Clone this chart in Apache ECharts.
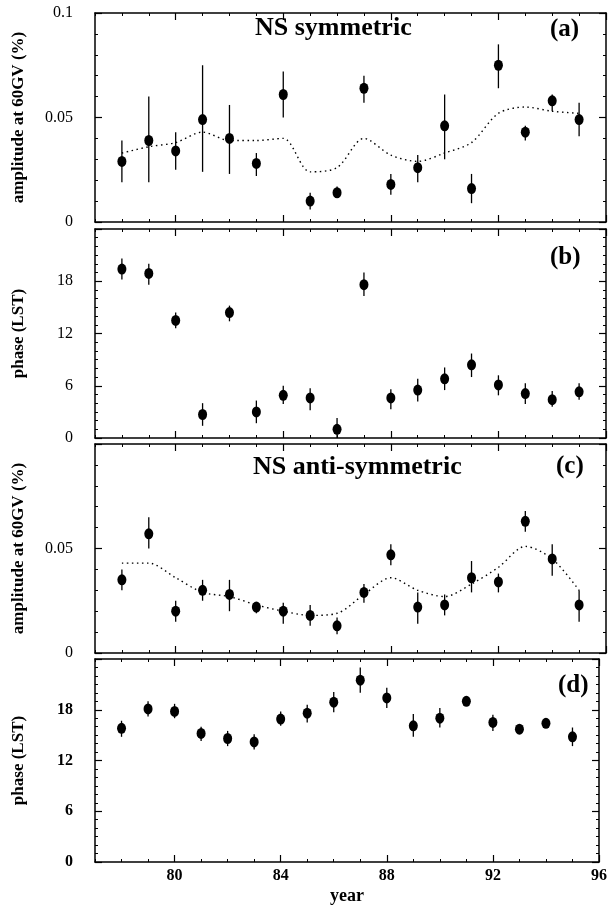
<!DOCTYPE html>
<html>
<head>
<meta charset="utf-8">
<script src="https://cdn.jsdelivr.net/npm/echarts@6/dist/echarts.min.js"></script>
<style>
  html, body { margin: 0; padding: 0; background: #fff; }
  #main { width: 610px; height: 906px; }
</style>
</head>
<body>
<div id="main"></div>
<script>
// years of the data points
var years = [78, 79, 80, 81, 82, 83, 84, 85, 86, 87, 88, 89, 90, 91, 92, 93, 94, 95];
var yearTicks = [80, 84, 88, 92, 96];

// (a) NS symmetric amplitude
var ampSym    = [0.029, 0.039, 0.034, 0.049, 0.040, 0.028, 0.061, 0.010, 0.014, 0.064, 0.018, 0.026, 0.046, 0.016, 0.075, 0.043, 0.058, 0.049];
var ampSymLo  = [0.019, 0.019, 0.025, 0.024, 0.023, 0.022, 0.050, 0.006, 0.012, 0.057, 0.013, 0.019, 0.030, 0.009, 0.064, 0.039, 0.053, 0.041];
var ampSymHi  = [0.039, 0.060, 0.043, 0.075, 0.056, 0.033, 0.072, 0.014, 0.017, 0.070, 0.023, 0.032, 0.061, 0.023, 0.085, 0.046, 0.061, 0.057];
var ampSymFit = [0.033, 0.036, 0.038, 0.043, 0.039, 0.039, 0.040, 0.024, 0.026, 0.040, 0.032, 0.029, 0.033, 0.038, 0.052, 0.055, 0.053, 0.052];

// (b) NS symmetric phase
var phSym   = [19.4, 18.9, 13.5, 2.7, 14.4, 3.0, 4.9, 4.6, 1.0, 17.6, 4.6, 5.5, 6.8, 8.4, 6.1, 5.1, 4.4, 5.3];
var phSymLo = [18.2, 17.6, 12.6, 1.4, 13.4, 1.7, 3.9, 3.2, 0.0, 16.3, 3.3, 4.2, 5.5, 7.0, 4.9, 3.9, 3.6, 4.4];
var phSymHi = [20.6, 20.0, 14.4, 4.0, 15.2, 4.3, 6.0, 5.7, 2.3, 19.0, 5.6, 6.8, 8.1, 9.7, 7.2, 6.3, 5.4, 6.3];

// (c) NS anti-symmetric amplitude
var ampAnti    = [0.035, 0.057, 0.020, 0.030, 0.028, 0.022, 0.020, 0.018, 0.013, 0.029, 0.047, 0.022, 0.023, 0.036, 0.034, 0.063, 0.045, 0.023];
var ampAntiLo  = [0.030, 0.050, 0.015, 0.025, 0.020, 0.019, 0.014, 0.013, 0.009, 0.024, 0.042, 0.014, 0.018, 0.029, 0.029, 0.058, 0.037, 0.015];
var ampAntiHi  = [0.040, 0.065, 0.025, 0.035, 0.035, 0.024, 0.024, 0.023, 0.017, 0.033, 0.052, 0.029, 0.028, 0.044, 0.038, 0.068, 0.052, 0.030];
var ampAntiFit = [0.043, 0.043, 0.036, 0.029, 0.027, 0.023, 0.020, 0.018, 0.019, 0.028, 0.036, 0.030, 0.027, 0.033, 0.041, 0.051, 0.045, 0.030];

// (d) NS anti-symmetric phase
var phAnti   = [15.8, 18.1, 17.8, 15.2, 14.6, 14.2, 16.9, 17.6, 18.9, 21.5, 19.4, 16.1, 17.0, 19.0, 16.5, 15.7, 16.4, 14.8];
var phAntiLo = [14.8, 17.2, 17.0, 14.3, 13.7, 13.3, 16.1, 16.5, 17.7, 20.0, 18.2, 14.8, 15.9, 18.7, 15.5, 15.4, 15.9, 13.7];
var phAntiHi = [16.7, 19.0, 18.7, 16.0, 15.5, 15.1, 17.8, 18.6, 20.1, 23.0, 20.6, 17.5, 18.2, 19.3, 17.4, 16.0, 16.9, 15.9];

var serif = 'Liberation Serif';
var myChart = echarts.init(document.getElementById('main'));

var panels = [
  { top: 13,  val: ampSym,  lo: ampSymLo,  hi: ampSymHi,  fit: ampSymFit,  max: 0.1, step: 0.05, minor: 5, topLabel: true,  name: 'amplitude at 60GV (%)', bold: false },
  { top: 229, val: phSym,   lo: phSymLo,   hi: phSymHi,   fit: null,       max: 24,  step: 6,    minor: 6, topLabel: false, name: 'phase (LST)', bold: false },
  { top: 444, val: ampAnti, lo: ampAntiLo, hi: ampAntiHi, fit: ampAntiFit, max: 0.1, step: 0.05, minor: 5, topLabel: false, name: 'amplitude at 60GV (%)', bold: false },
  { top: 659, val: phAnti,  lo: phAntiLo,  hi: phAntiHi,  fit: null,       max: 24,  step: 6,    minor: 6, topLabel: false, name: 'phase (LST)', bold: true }
];

var grids = [], xAxes = [], yAxes = [], series = [];
var axLine = { show: true, lineStyle: { color: '#000', width: 1.5 } };

function renderErr(params, api) {
  var p1 = api.coord([api.value(0), api.value(1)]);
  var p2 = api.coord([api.value(0), api.value(2)]);
  return {
    type: 'line',
    shape: { x1: p1[0], y1: p1[1], x2: p2[0], y2: p2[1] },
    style: { stroke: '#000', lineWidth: 1.3 }
  };
}

panels.forEach(function (p, i) {
  grids.push({ left: 95, right: 4, top: p.top, height: 209 });
  var last = (i === panels.length - 1);
  var xi = xAxes.length;
  // bottom: yearly minor ticks
  xAxes.push({ gridIndex: i, type: 'value', min: 77, max: 96, interval: 1, position: 'bottom',
    axisLine: axLine, axisTick: { inside: true, length: 3, lineStyle: { color: '#000' } },
    axisLabel: { show: false }, splitLine: { show: false } });
  // bottom: major ticks + labels
  xAxes.push({ gridIndex: i, type: 'value', min: 77, max: 96, position: 'bottom',
    axisLine: { show: false },
    axisTick: { inside: true, length: 7, customValues: yearTicks, lineStyle: { color: '#000', width: 1.2 } },
    axisLabel: { show: last, customValues: yearTicks, margin: 6, color: '#000', fontFamily: serif, fontWeight: 'bold', fontSize: 16 },
    name: last ? 'year' : '', nameLocation: 'middle', nameGap: 25,
    nameTextStyle: { color: '#000', fontFamily: serif, fontWeight: 'bold', fontSize: 18 },
    splitLine: { show: false } });
  // top mirrors
  xAxes.push({ gridIndex: i, type: 'value', min: 77, max: 96, interval: 1, position: 'top',
    axisLine: axLine, axisTick: { inside: true, length: 3, lineStyle: { color: '#000' } },
    axisLabel: { show: false }, splitLine: { show: false } });
  xAxes.push({ gridIndex: i, type: 'value', min: 77, max: 96, position: 'top',
    axisLine: { show: false },
    axisTick: { inside: true, length: 7, customValues: yearTicks, lineStyle: { color: '#000', width: 1.2 } },
    axisLabel: { show: false }, splitLine: { show: false } });

  var yi = yAxes.length;
  yAxes.push({ gridIndex: i, type: 'value', min: 0, max: p.max, interval: p.step, position: 'left',
    axisLine: axLine,
    axisTick: { inside: true, length: 7, lineStyle: { color: '#000', width: 1.2 } },
    minorTick: { show: true, splitNumber: p.minor, length: 3, lineStyle: { color: '#000' } },
    axisLabel: { margin: 22, color: '#000', fontFamily: serif, fontSize: 16, fontWeight: p.bold ? 'bold' : 'normal',
      formatter: function (v) { return (v >= p.max - 1e-9 && !p.topLabel) ? '' : String(v); } },
    name: p.name, nameLocation: 'middle', nameGap: 68,
    nameTextStyle: { color: '#000', fontFamily: serif, fontWeight: 'bold', fontSize: 17 },
    splitLine: { show: false } });
  yAxes.push({ gridIndex: i, type: 'value', min: 0, max: p.max, interval: p.step, position: 'right',
    axisLine: axLine,
    axisTick: { inside: true, length: 7, lineStyle: { color: '#000', width: 1.2 } },
    minorTick: { show: true, splitNumber: p.minor, length: 3, lineStyle: { color: '#000' } },
    axisLabel: { show: false }, splitLine: { show: false } });

  series.push({
    type: 'custom', xAxisIndex: xi, yAxisIndex: yi, renderItem: renderErr, clip: true,
    data: years.map(function (y, k) { return [y, p.lo[k], p.hi[k]]; }), z: 3
  });
  if (p.fit) {
    series.push({
      type: 'line', xAxisIndex: xi, yAxisIndex: yi, showSymbol: false, symbol: 'none', smooth: 0.3,
      lineStyle: { color: '#000', width: 1.4, type: [1.5, 3.5] },
      data: years.map(function (y, k) { return [y, p.fit[k]]; }), z: 2
    });
  }
  series.push({
    type: 'scatter', xAxisIndex: xi, yAxisIndex: yi, symbol: 'circle', symbolSize: [9, 11],
    itemStyle: { color: '#000', opacity: 1 },
    data: years.map(function (y, k) { return [y, p.val[k]]; }), z: 4
  });
});

var bigText = { color: '#000', fontFamily: serif, fontWeight: 'bold', fontSize: 26 };
var tagText = { color: '#000', fontFamily: serif, fontWeight: 'bold', fontSize: 25 };
var option = {
  backgroundColor: '#fff',
  animation: false,
  title: [
    { text: 'NS symmetric', left: 250, top: 10, textStyle: bigText },
    { text: '(a)', left: 545, top: 12, textStyle: tagText },
    { text: '(b)', left: 545, top: 240, textStyle: tagText },
    { text: 'NS anti-symmetric', left: 248, top: 449, textStyle: bigText },
    { text: '(c)', left: 551, top: 449, textStyle: tagText },
    { text: '(d)', left: 553, top: 668, textStyle: tagText }
  ],
  grid: grids,
  xAxis: xAxes,
  yAxis: yAxes,
  series: series
};

myChart.setOption(option);
</script>
</body>
</html>
